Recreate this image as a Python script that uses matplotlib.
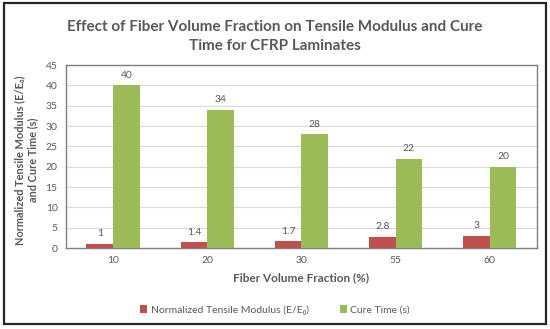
import matplotlib
matplotlib.use("Agg")
import matplotlib.pyplot as plt
from matplotlib.patches import Rectangle
import numpy as np

plt.rcParams['font.family'] = ['Lato', 'DejaVu Sans']

# data
fractions = ["10", "20", "30", "55", "60"]
modulus = [1, 1.4, 1.7, 2.8, 3]
cure_time = [40, 34, 28, 22, 20]
modulus_labels = ["1", "1.4", "1.7", "2.8", "3"]
cure_labels = ["40", "34", "28", "22", "20"]

red = "#C0504D"
green = "#9BBB59"
text_gray = "#595959"

fig = plt.figure(figsize=(5.5, 3.29), dpi=100)
ax = fig.add_axes([0.12, 0.246, 0.856, 0.556])

x = np.arange(len(fractions))
w = 0.283
b1 = ax.bar(x - w / 2, modulus, w, color=red, label="Normalized Tensile Modulus (E/E\u2080)", zorder=3)
b2 = ax.bar(x + w / 2, cure_time, w, color=green, label="Cure Time (s)", zorder=3)

ax.bar_label(b1, labels=modulus_labels, padding=4, fontsize=7.5, color=text_gray)
ax.bar_label(b2, labels=cure_labels, padding=4, fontsize=7.5, color=text_gray)

ax.set_xlim(-0.5, len(fractions) - 0.5)
ax.set_ylim(0, 45)
ax.set_yticks(range(0, 46, 5))
ax.set_xticks(x)
ax.set_xticklabels(fractions)
ax.tick_params(axis="both", length=0, labelsize=7.5, labelcolor=text_gray, pad=6)
ax.yaxis.grid(True, color="#D9D9D9", linewidth=0.8, zorder=0)
ax.set_axisbelow(True)
for s in ax.spines.values():
    s.set_color("#7F7F7F")
    s.set_linewidth(1.0)

ax.set_xlabel("Fiber Volume Fraction (%)", fontsize=8.5, fontweight="bold", color=text_gray, labelpad=5)
ax.set_ylabel("Normalized Tensile Modulus (E/E\u2080)\nand Cure Time (s)", fontsize=7.9,
              fontweight="bold", color=text_gray)
ax.yaxis.set_label_coords(-0.06, 0.48)

fig.suptitle("Effect of Fiber Volume Fraction on Tensile Modulus and Cure\nTime for CFRP Laminates",
             x=0.5, y=0.94, fontsize=11, fontweight="bold", color=text_gray, linespacing=1.45)

fig.legend(loc="center", bbox_to_anchor=(0.5, 0.058), ncol=2, frameon=False, fontsize=7.5,
           handlelength=0.7, handleheight=0.7, handletextpad=0.3, columnspacing=3,
           labelcolor=text_gray)

fig.patches.append(Rectangle((0.007, 0.015), 0.986, 0.977, transform=fig.transFigure,
                             fill=False, edgecolor="#262626", linewidth=1.6))

fig.savefig("out.png", dpi=100)
